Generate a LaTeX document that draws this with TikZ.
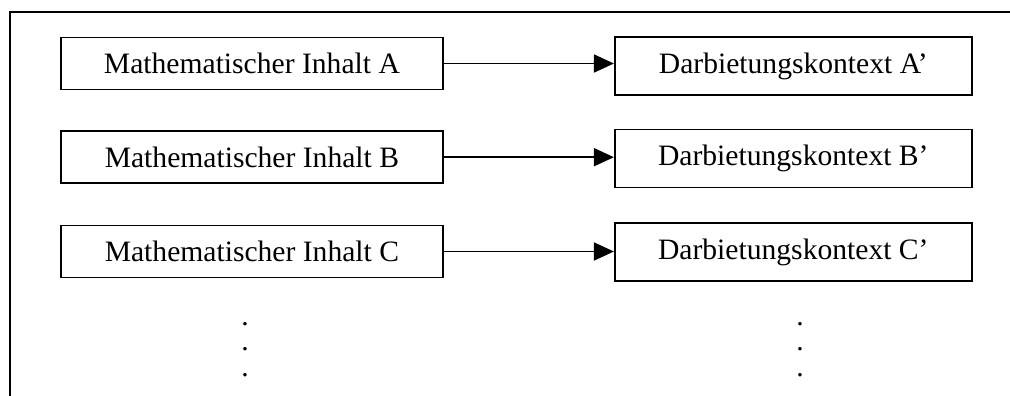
\documentclass[tikz,border=0pt]{standalone}
\usepackage{fontspec}
\setmainfont{Liberation Serif}
\usetikzlibrary{arrows.meta}
\begin{document}
\begin{tikzpicture}[x=1pt,y=-1pt,
  lbox/.style={draw, line width=1.8pt, rectangle, inner sep=0pt, minimum width=382pt, minimum height=52pt, font=\fontsize{29.6}{32}\selectfont},
  rbox/.style={draw, line width=1.8pt, rectangle, inner sep=0pt, minimum width=357pt, minimum height=58pt, font=\fontsize{29.6}{32}\selectfont},
  conn/.style={line width=1.8pt, -{Triangle[length=20pt,width=18pt]}},
  dotcol/.style={inner sep=0pt, anchor=north, align=center, font=\fontsize{29.6}{25.5}\selectfont}]
\useasboundingbox (0,0) rectangle (1010,396);
\clip (0,0) rectangle (1010,396);
\draw[line width=1.8pt] (10,410) -- (10,12) -- (1020,12);
\node[lbox] (a) at (251.9,63.5) {Mathematischer Inhalt A};
\node[lbox] (b) at (251.9,157.2) {Mathematischer Inhalt B};
\node[lbox] (c) at (251.9,251.5) {Mathematischer Inhalt C};
\node[rbox] (ap) at (793.3,66.2) {Darbietungskontext A’};
\node[rbox] (bp) at (793.3,158.5) {Darbietungskontext B’};
\node[rbox] (cp) at (793.3,252.2) {Darbietungskontext C’};
\draw[conn] (a.east) -- (a.east -| ap.west);
\draw[conn] (b.east) -- (b.east -| bp.west);
\draw[conn] (c.east) -- (c.east -| cp.west);
\node[dotcol] (ldots) at (245,322) {.\\.\\.};
\node[dotcol] (rdots) at (800,322) {.\\.\\.};
\end{tikzpicture}
\end{document}
